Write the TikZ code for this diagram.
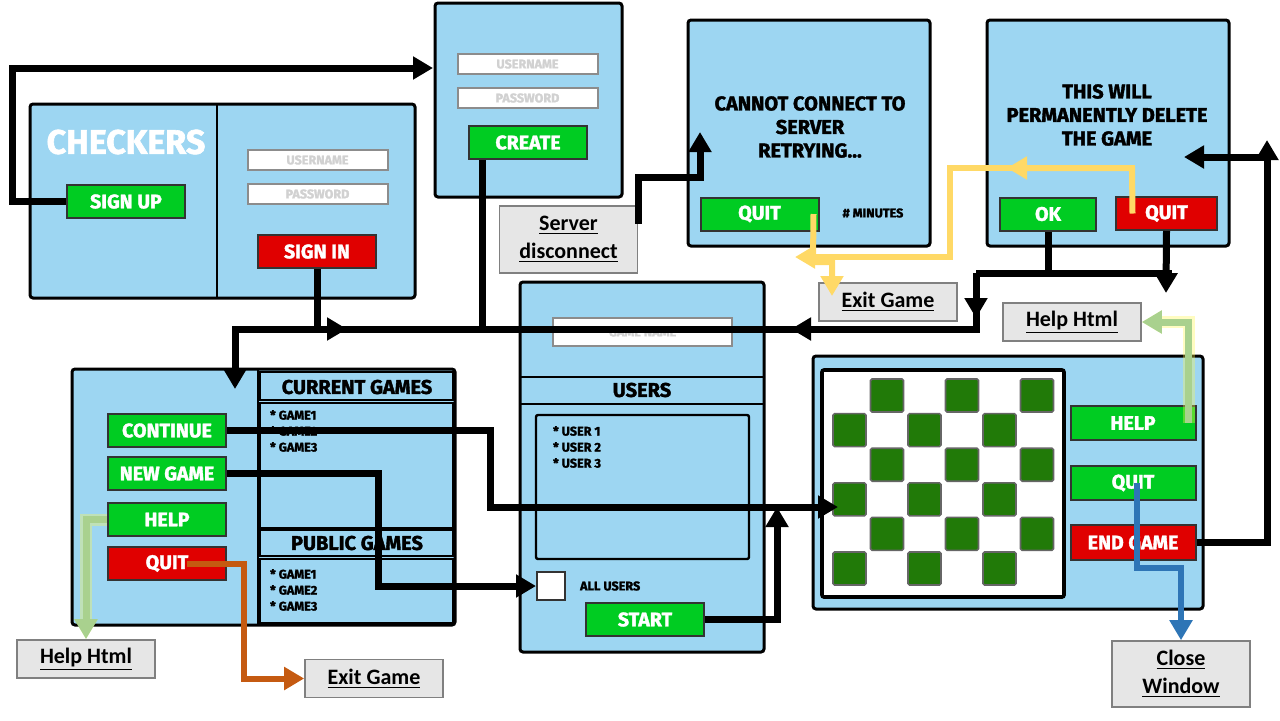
\documentclass[tikz,border=0pt]{standalone}
\usepackage{fontspec}
\setmainfont{Carlito}
\newfontfamily\uifont{Fira Sans}[BoldFeatures={FakeBold=1.8}]
\usetikzlibrary{arrows.meta}
\definecolor{winblue}{RGB}{157,214,242}
\definecolor{btngreen}{RGB}{0,204,34}
\definecolor{btnred}{RGB}{224,0,0}
\definecolor{tilegreen}{RGB}{33,122,8}
\definecolor{notegray}{RGB}{230,230,230}
\definecolor{quityellow}{RGB}{255,217,102}
\definecolor{quitorange}{RGB}{197,90,17}
\definecolor{closeblue}{RGB}{46,117,182}
\definecolor{helpgreen}{RGB}{169,209,142}

\begin{document}
\begin{tikzpicture}[x=0.5pt, y=-0.5pt,
    win/.style={draw=black, line width=1.5pt, fill=winblue, rounded corners=1.5pt},
    pane/.style={draw=black, line width=1.2pt},
    btn/.style={draw=black!80, line width=1pt, minimum width=59pt, minimum height=16.5pt,
      inner sep=0pt, text=white, font=\uifont\bfseries\fontsize{9.8}{9.8}\selectfont},
    field/.style={draw=black!45, line width=1pt, fill=white, minimum width=70pt,
      minimum height=10pt, inner sep=0pt, text=black!18, font=\uifont\bfseries\fontsize{6.3}{6.3}\selectfont},
    note/.style={draw=black!50, line width=0.8pt, fill=notegray, minimum width=69pt,
      minimum height=19pt, inner sep=0pt, align=center, font=\bfseries\fontsize{11}{14}\selectfont},
    headtxt/.style={font=\uifont\bfseries\fontsize{10}{11.75}\selectfont, align=center},
    listtxt/.style={anchor=west, align=left, font=\uifont\bfseries\fontsize{6.3}{8}\selectfont},
    tile/.style={draw=black!60, line width=0.8pt, fill=tilegreen, rounded corners=0.8pt},
    wire/.style={line width=3.5pt},
    arrowed/.style={-{Triangle[width=11pt,length=10pt]}},
    yellowwire/.style={line width=3pt, draw=quityellow},
    orangewire/.style={line width=3pt, draw=quitorange},
    bluewire/.style={line width=3pt, draw=closeblue},
    greenwire/.style={line width=3.5pt, draw=helpgreen,
      preaction={draw=yellow!70, line width=6pt, opacity=0.35}}]
  \useasboundingbox (0,0) rectangle (1280,720);

  % login
  \draw[win] (30,104) rectangle (415,298);
  \draw[pane] (217,104) -- (217,298);
  \node[text=white, font=\uifont\bfseries\fontsize{17}{17}\selectfont] (title) at (126,142) {CHECKERS};
  \node[btn, fill=btngreen] (signup) at (126,201.5) {SIGN UP};
  \node[field] (loginuser) at (317.5,160) {USERNAME};
  \node[field] (loginpass) at (317.5,194) {PASSWORD};
  \node[btn, fill=btnred] (signin) at (317,251.5) {SIGN IN};

  % create account
  \draw[win] (435,3) rectangle (622,197);
  \node[field] (newuser) at (527.5,64) {USERNAME};
  \node[field] (newpass) at (527.5,98) {PASSWORD};
  \node[btn, fill=btngreen] (create) at (528,142.5) {CREATE};

  % lost connection
  \draw[win] (688,20) rectangle (930,246);
  \node[headtxt] (retrymsg) at (810,127) {CANNOT CONNECT TO\\SERVER\\RETRYING...};
  \node[btn, fill=btngreen] (retryquit) at (759.5,214) {QUIT};
  \node[listtxt, anchor=center] (minutes) at (873,213) {\# MINUTES};

  % delete warning
  \draw[win] (987,20) rectangle (1229,246);
  \node[headtxt] (deletemsg) at (1107,115) {THIS WILL\\PERMANENTLY DELETE\\THE GAME};
  \node[btn, fill=btngreen, minimum width=48pt] (deleteok) at (1048,214) {OK};
  \node[btn, fill=btnred, minimum width=50.5pt] (deletequit) at (1166.5,213.5) {QUIT};

  % lobby
  \draw[win] (72,369) rectangle (455,625);
  \draw[pane] (258,369) -- (258,625);
  \draw[pane] (260,372) rectangle (453,400);
  \draw[pane] (260,403) rectangle (453,528);
  \draw[pane] (260,530) rectangle (453,556);
  \draw[pane] (260,559) rectangle (453,623);
  \node[headtxt] (curhead) at (357,387) {CURRENT GAMES};
  \node[listtxt] (curlist) at (263,431) {* GAME1\\* GAME2\\* GAME3};
  \node[headtxt] (pubhead) at (357,543) {PUBLIC GAMES};
  \node[listtxt] (publist) at (263,590) {* GAME1\\* GAME2\\* GAME3};
  \node[btn, fill=btngreen] (continue) at (167,430.5) {CONTINUE};
  \node[btn, fill=btngreen] (newgame) at (167,473.5) {NEW GAME};
  \node[btn, fill=btngreen] (lobbyhelp) at (167,519.5) {HELP};
  \node[btn, fill=btnred] (lobbyquit) at (167,563.5) {QUIT};

  % new game setup
  \draw[win] (520,282) rectangle (764,652);
  \node[field, minimum width=89.5pt, minimum height=14pt] (gamename) at (642.5,332) {GAME NAME};
  \draw[pane] (520,377) rectangle (764,404);
  \node[headtxt] (userhead) at (642,390) {USERS};
  \draw[pane, rounded corners=1pt] (536,415) rectangle (749,559);
  \node[listtxt] (userlist) at (546,447) {* USER 1\\* USER 2\\* USER 3};
  \node[draw=black!80, line width=1pt, fill=white, minimum size=14pt, inner sep=0pt] (allbox) at (551,586) {};
  \node[listtxt] (alltxt) at (573,586) {ALL USERS};
  \node[btn, fill=btngreen] (start) at (645,619.5) {START};

  % board
  \draw[win] (813,356) rectangle (1203,609);
  \draw[pane, line width=1.8pt, fill=white, rounded corners=1pt] (822,370) rectangle (1064,597);
  \foreach \r in {0,...,5}
    \foreach \c in {0,...,5} {
      \pgfmathparse{int(mod(\r+\c,2))}
      \ifnum\pgfmathresult=1
        \draw[tile] (833+37.5*\c,379+34.6*\r) rectangle ++(33,33);
      \fi
    }
  \node[btn, fill=btngreen, minimum width=62.5pt, minimum height=17pt] (gamehelp) at (1133,423) {HELP};
  \node[btn, fill=btngreen, minimum width=62.5pt, minimum height=17pt] (gamequit) at (1133,483) {QUIT};
  \node[btn, fill=btnred, minimum width=62.5pt, minimum height=17.5pt] (gameend) at (1133,542.5) {END GAME};

  % grey targets
  \node[note, minimum height=33.5pt] (disconnect) at (568.5,239.5) {\underline{Server}\\\underline{disconnect}};
  \node[note] (exittop) at (888,302) {\underline{Exit Game}};
  \node[note] (helptop) at (1072,322) {\underline{Help Html}};
  \node[note] (helpbottom) at (86,659) {\underline{Help Html}};
  \node[note] (exitbottom) at (374,678.5) {\underline{Exit Game}};
  \node[note, minimum height=33pt] (closewin) at (1181,674) {\underline{Close}\\\underline{Window}};

  % black flow
  \coordinate (createin) at (433,68);
  \coordinate (lobbyin) at (235,389);
  \coordinate (okturn) at (976,273);
  \coordinate (retryin) at (700,132);
  \coordinate (endturn) at (1267,157);
  \coordinate (boardin) at (838,507);
  \draw[wire, arrowed] (signup.west) -- (12,201.5) |- (createin);
  \draw[wire, arrowed] (signin.south) |- (347,329);
  \draw[wire] ([xshift=-23pt]create.south) -- ++(0,170);
  \draw[wire] (deleteok.south) |- (okturn) -- (1172,273);
  \draw[wire, arrowed] (okturn) |- (235,329) -- (lobbyin);
  \draw[wire, arrowed] (okturn) -- (976,318);
  \draw[wire, arrowed] (976,329) -- (791,329);
  \draw[wire, arrowed] (deletequit.south) -- (1166,293);
  \draw[wire, arrowed] ([yshift=8pt]disconnect.east) |- (700,177) -- (retryin);
  \draw[wire, arrowed] (gameend.east) -| (1267,140);
  \draw[wire, arrowed] (endturn) -- (1184,157);
  \draw[wire, arrowed] (continue.east) -| (490,507) -- (boardin);
  \draw[wire, arrowed] (newgame.east) -| (378,586) -- (allbox.west);
  \draw[wire, arrowed] (start.east) -| (777,507);

  % coloured exits
  \coordinate (yturn) at (1132,168);
  \coordinate (exittopin) at (832,296);
  \draw[yellowwire, arrowed] ([xshift=-17pt]deletequit.center) -- (yturn) -- (1007,168);
  \draw[yellowwire, arrowed] (yturn) -- (950,168) -- (950,257) -- (795,257);
  \draw[yellowwire, arrowed] ([xshift=27pt]retryquit.center) -- (813,262) -| (exittopin);
  \draw[orangewire, arrowed] ([xshift=10pt]lobbyquit.center) -| (244,678.5) -- (exitbottom.west);
  \draw[bluewire, arrowed] ([xshift=2pt]gamequit.center) |- (1181,568) -- (closewin.north);
  \draw[greenwire, arrowed] (lobbyhelp.west) -| (helpbottom.north);
  \draw[greenwire, arrowed] ([xshift=-4pt]gamehelp.east) |- (helptop.east);
\end{tikzpicture}
\end{document}
